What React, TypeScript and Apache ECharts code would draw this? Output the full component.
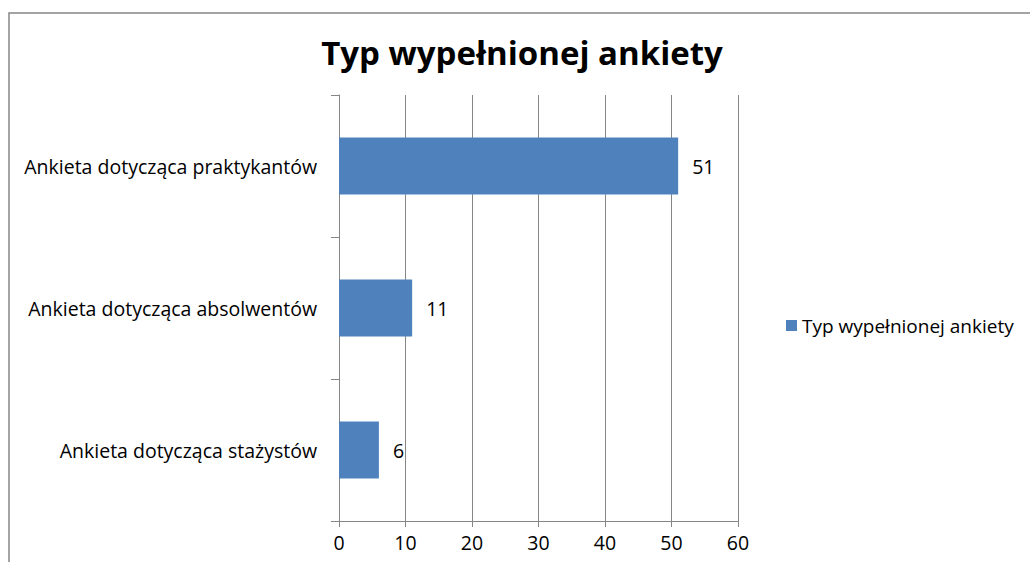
import React, { useEffect, useRef } from "react";
import * as echarts from "echarts";

const categories = [
  "Ankieta dotycząca stażystów",
  "Ankieta dotycząca absolwentów",
  "Ankieta dotycząca praktykantów",
];
const values = [6, 11, 51];
const seriesName = "Typ wypełnionej ankiety";
const titleText = "Typ wypełnionej ankiety";

const FONT = "'Open Sans', sans-serif";
const AXIS_COLOR = "#868686";
const FS = 19.5;

export default function App() {
  const ref = useRef<HTMLDivElement>(null);
  useEffect(() => {
    document.body.style.margin = "0";
    const chart = echarts.init(ref.current!, null, { renderer: "svg" });
    chart.setOption({
      animation: false,
      backgroundColor: "#ffffff",
      textStyle: { fontFamily: FONT },
      title: {
        text: titleText,
        left: 517,
        top: 31,
        textAlign: "center",
        textStyle: { fontFamily: FONT, fontWeight: "bold", fontSize: 33, color: "#000" },
      },
      graphic: [
        {
          type: "rect",
          shape: { x: 9, y: 13, width: 1040, height: 600 },
          style: { fill: "none", stroke: AXIS_COLOR, lineWidth: 1.5 },
          silent: true,
        },
      ],
      legend: {
        left: 781,
        top: 311,
        itemWidth: 11,
        itemHeight: 11,
        itemGap: 6,
        icon: "rect",
        textStyle: { fontFamily: FONT, fontSize: 19, color: "#000" },
        data: [seriesName],
      },
      grid: { left: 339, right: 292, top: 95, bottom: 41, containLabel: false },
      xAxis: {
        type: "value",
        min: 0,
        max: 60,
        interval: 10,
        axisLine: { show: true, lineStyle: { color: AXIS_COLOR, width: 1 } },
        axisTick: { show: true, length: 6, lineStyle: { color: AXIS_COLOR } },
        splitLine: { show: true, lineStyle: { color: AXIS_COLOR, width: 1 } },
        axisLabel: { fontFamily: FONT, fontSize: FS, color: "#000", margin: 11 },
      },
      yAxis: {
        type: "category",
        data: categories,
        axisLine: { show: true, lineStyle: { color: AXIS_COLOR, width: 1 } },
        axisTick: { show: true, length: 8, lineStyle: { color: AXIS_COLOR } },
        axisLabel: { fontFamily: FONT, fontSize: FS, color: "#000", margin: 22 },
      },
      series: [
        {
          name: seriesName,
          type: "bar",
          data: values,
          barWidth: 57,
          itemStyle: { color: "#4F81BD" },
          label: {
            show: true,
            position: "right",
            distance: 14,
            fontFamily: FONT,
            fontSize: FS,
            color: "#000",
          },
        },
      ],
    });
    return () => chart.dispose();
  }, []);
  return <div ref={ref} style={{ width: 1030, height: 562 }} />;
}
